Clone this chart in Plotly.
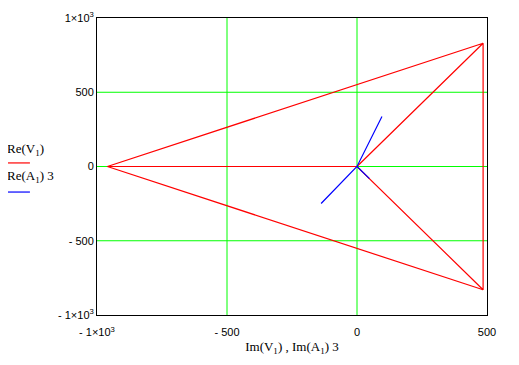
import plotly.graph_objects as go

# Voltage phasor polygon (Im, Re) ; None breaks the path
v1_im = [0, 485, 485, 0, -960, 485, None, -960, 485]
v1_re = [0, 830, -830, 0, 0, 830, None, 0, -830]

# Current phasors times 3 (Im, Re)
a1_im = [96, 0, -138, None, 0, 48]
a1_re = [337, 0, -249, None, 0, -82]

x_tickvals = [-1000, -500, 0, 500]
x_ticktext = ["- 1×10<sup>3</sup>", "- 500", "0", "500"]
y_tickvals = [-1000, -500, 0, 500, 1000]
y_ticktext = ["- 1×10<sup>3</sup>", "- 500", "0", "500", "1×10<sup>3</sup>"]
grid_x = [-500, 0]
grid_y = [-500, 0, 500]

GREEN = "#00FF00"
fig = go.Figure()

for gx in grid_x:
    fig.add_shape(type="line", xref="x", yref="y", x0=gx, x1=gx, y0=-1000, y1=1000,
                  line=dict(color=GREEN, width=1), layer="below")
for gy in grid_y:
    fig.add_shape(type="line", xref="x", yref="y", x0=-1000, x1=500, y0=gy, y1=gy,
                  line=dict(color=GREEN, width=1), layer="below")

fig.add_trace(go.Scatter(x=v1_im, y=v1_re, mode="lines",
                         line=dict(color="#FF0000", width=1.2), connectgaps=False,
                         showlegend=False, hoverinfo="skip"))
fig.add_trace(go.Scatter(x=a1_im, y=a1_re, mode="lines",
                         line=dict(color="#0000FF", width=1.2), connectgaps=False,
                         showlegend=False, hoverinfo="skip"))

tick_font = dict(family="Liberation Sans, Arial", size=11, color="black")
fig.update_xaxes(range=[-1000, 500], showgrid=False, zeroline=False, automargin=False,
                 tickvals=x_tickvals, ticktext=x_ticktext, tickfont=tick_font,
                 showline=True, linecolor="black", linewidth=1, mirror=True,
                 ticks="outside", ticklen=7, tickcolor="rgba(0,0,0,0)",
                 title=dict(text="Im(V<sub>1</sub>) , Im(A<sub>1</sub>) 3",
                            font=dict(family="Liberation Serif, Times New Roman", size=13, color="black"),
                            standoff=4))
fig.update_yaxes(range=[-1000, 1000], showgrid=False, zeroline=False, automargin=False,
                 tickvals=y_tickvals, ticktext=y_ticktext, tickfont=tick_font,
                 showline=True, linecolor="black", linewidth=1, mirror=True,
                 ticks="", ticklen=0)

serif = dict(family="Liberation Serif, Times New Roman", size=13, color="black")
fig.add_annotation(xref="paper", yref="paper", x=-0.236, y=0.556, xanchor="left", yanchor="middle",
                   text="Re(V<sub>1</sub>)", showarrow=False, font=serif)
fig.add_annotation(xref="paper", yref="paper", x=-0.236, y=0.465, xanchor="left", yanchor="middle",
                   text="Re(A<sub>1</sub>) 3", showarrow=False, font=serif)
fig.add_shape(type="line", xref="paper", yref="paper", x0=-0.238, x1=-0.172, y0=0.512, y1=0.512,
              line=dict(color="#FF0000", width=1.2))
fig.add_shape(type="line", xref="paper", yref="paper", x0=-0.238, x1=-0.172, y0=0.414, y1=0.414,
              line=dict(color="#0000FF", width=1.2))

# page body has an 8px default margin, so the figure is shrunk to compensate
fig.update_layout(width=511, height=357, margin=dict(l=89, r=32, t=10, b=50, autoexpand=False),
                  paper_bgcolor="white", plot_bgcolor="white", showlegend=False)

fig.write_html("out.html")
